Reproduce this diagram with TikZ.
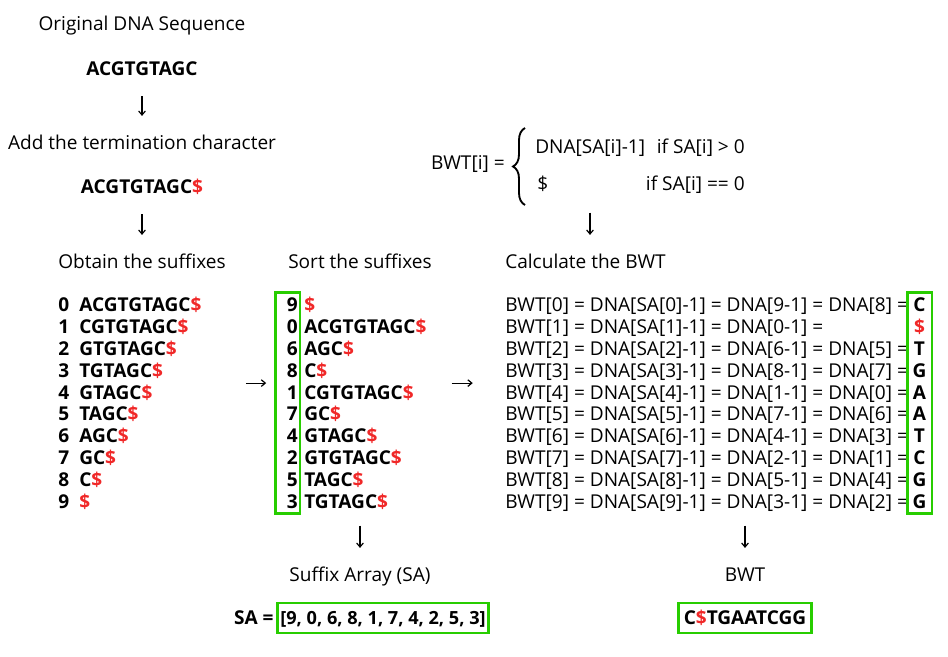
\documentclass[tikz,border=0pt]{standalone}
\usepackage{fontspec}
\setmainfont{Open Sans}
\usetikzlibrary{arrows.meta, calc, fit, decorations.pathreplacing}
\definecolor{dnared}{RGB}{240,40,40}
\definecolor{boxgreen}{RGB}{40,205,0}
\newcommand{\dol}{\textcolor{dnared}{\$}}
\tikzset{
  lbl/.style={inner sep=0pt, text height=10.2pt, text depth=0pt, font=\fontsize{14.3pt}{17pt}\selectfont},
  seqtxt/.style={lbl, font=\fontsize{14.3pt}{17pt}\selectfont\bfseries},
  gbox/.style={draw=boxgreen, line width=1.9pt},
  darr/.style={-{Straight Barb[length=3pt,width=5pt]}, line width=0.9pt, shorten <=15pt, shorten >=15pt},
}

\begin{document}
\begin{tikzpicture}[x=0.75pt, y=-0.75pt]
\useasboundingbox (0,0) rectangle (948,656);
% input sequence
\node[lbl] (orig) at (142,24) {Original DNA Sequence};
\node[seqtxt] (seq) at (142,69) {ACGTGTAGC};
\node[lbl] (addlbl) at (142,143) {Add the termination character};
\node[seqtxt] (seqd) at (142,187) {ACGTGTAGC\dol};
\node[lbl] (suflbl) at (142,262) {Obtain the suffixes};
\draw[darr] (seq) -- (addlbl);
\draw[darr] (seqd) -- (suflbl);

% suffixes
\foreach \suf [count=\k from 0] in {ACGTGTAGC, CGTGTAGC, GTGTAGC, TGTAGC, GTAGC, TAGC, AGC, GC, C, {}} {
  \node[seqtxt, anchor=west] (n\k) at (58,305+21.8*\k) {\k};
  \node[seqtxt, anchor=west] (u\k) at (79,305+21.8*\k) {\suf\dol};
}
\node[fit=(n0)(u0)(u9), inner sep=0pt] (suflist) {};

% sorted suffixes
\node[lbl] (sortlbl) at (360,262) {Sort the suffixes};
\foreach \i/\suf [count=\k from 0] in {9/{}, 0/ACGTGTAGC, 6/AGC, 8/C, 1/CGTGTAGC, 7/GC, 4/GTAGC, 2/GTGTAGC, 5/TAGC, 3/TGTAGC} {
  \node[seqtxt, anchor=east, text width=15pt, align=right] (s\k) at (298,305+21.8*\k) {\i};
  \node[seqtxt, anchor=west] (t\k) at (304,305+21.8*\k) {\suf\dol};
}
\node[gbox, fit=(s0)(s9), inner xsep=1.5pt, inner ysep=4pt] (sortbox) {};
\node[fit=(sortbox)(t1)(t9), inner sep=0pt] (sortlist) {};

% formula
\node[lbl, anchor=east] (bwti) at (505,163) {BWT[i] =};
\draw[line width=1.4pt, decorate, decoration={brace, amplitude=9pt}] (525,205) -- (525,128);
\node[lbl, anchor=west] (fcase1) at (535,147) {DNA[SA[i]-1]};
\node[lbl, anchor=east] (fcond1) at (745,147) {if SA[i] > 0};
\node[lbl, anchor=west] (fcase2) at (537,184) {\$};
\node[lbl, anchor=east] (fcond2) at (745,184) {if SA[i] == 0};
\coordinate (fbot) at (590,190);

% BWT rows
\node[lbl, anchor=west] (bwtlbl) at (505,262) {Calculate the BWT};
\foreach \sa/\ch [count=\k from 0] in {9/C, 0/\dol, 6/T, 8/G, 1/A, 7/A, 4/T, 2/C, 5/G, 3/G} {
  \pgfmathtruncatemacro{\pos}{\sa-1}
  \node[lbl, anchor=west] (b\k) at (505,305+21.8*\k) {BWT[\k] = DNA[SA[\k]-1] = DNA[\sa-1] =\ifnum\sa>0\ DNA[\pos] =\fi};
  \node[seqtxt, minimum width=15pt] (c\k) at (919.5,305+21.8*\k) {\ch};
}
\node[gbox, fit=(c0)(c9), inner xsep=1.5pt, inner ysep=4pt] (bwtbox) {};
\node[fit=(b0)(b9), inner sep=0pt] (bwtlist) {};

\draw[darr, shorten <=33pt, shorten >=6pt] ([yshift=15pt]suflist.east) -- ([yshift=15pt]sortbox.west);
\draw[darr, shorten <=18.5pt, shorten >=24pt] ([yshift=15pt]sortlist.east) -- ([yshift=15pt]bwtlist.west);
\draw[darr, shorten <=17pt] (fbot) -- (fbot |- bwtlbl.north);

% results
\node[lbl] (salbl) at (360,575) {Suffix Array (SA)};
\node[seqtxt, font=\fontsize{13.6pt}{16pt}\selectfont\bfseries, gbox, inner xsep=2pt, minimum height=22.5pt] (sabox) at (383,618) {[9, 0, 6, 8, 1, 7, 4, 2, 5, 3]};
\node[seqtxt, anchor=east] (saeq) at ([xshift=-2pt]sabox.west) {SA =};
\node[lbl] (bwtout) at (745,575) {BWT};
\node[seqtxt, gbox, inner xsep=4pt, minimum height=22.5pt] (bwtres) at (745,618) {C\dol TGAATCGG};
\draw[darr, shorten <=8pt] (salbl.north |- sortbox.south) -- (salbl.north);
\draw[darr, shorten <=8pt] (bwtout.north |- bwtbox.south) -- (bwtout.north);
\end{tikzpicture}
\end{document}
